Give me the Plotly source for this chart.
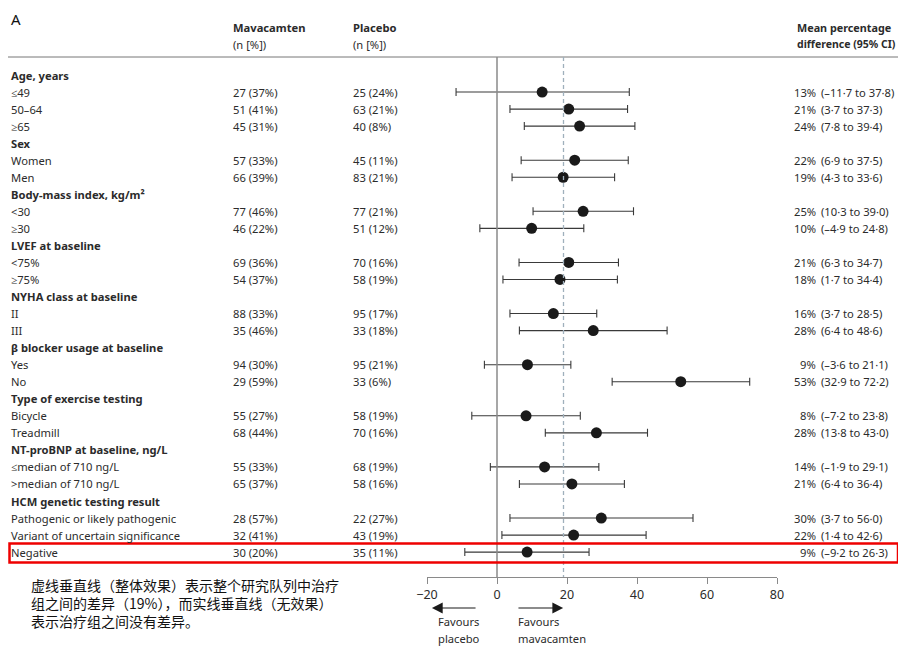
import plotly.graph_objects as go

# ---------------- data ----------------
labels = ["Age, years", "≤49", "50–64", "≥65",
          "Sex", "Women", "Men",
          "Body-mass index, kg/m²", "<30", "≥30",
          "LVEF at baseline", "<75%", "≥75%",
          "NYHA class at baseline", "II", "III",
          "β blocker usage at baseline", "Yes", "No",
          "Type of exercise testing", "Bicycle", "Treadmill",
          "NT-proBNP at baseline, ng/L", "≤median of 710 ng/L", ">median of 710 ng/L",
          "HCM genetic testing result", "Pathogenic or likely pathogenic",
          "Variant of uncertain significance", "Negative"]
is_header = [1, 0, 0, 0, 1, 0, 0, 1, 0, 0, 1, 0, 0, 1, 0, 0, 1, 0, 0, 1, 0, 0, 1, 0, 0, 1, 0, 0, 0]
mava_n = [None, 27, 51, 45, None, 57, 66, None, 77, 46, None, 69, 54, None, 88, 35, None, 94, 29,
          None, 55, 68, None, 55, 65, None, 28, 32, 30]
mava_pct = [None, 37, 41, 31, None, 33, 39, None, 46, 22, None, 36, 37, None, 33, 46, None, 30, 59,
            None, 27, 44, None, 33, 37, None, 57, 41, 20]
plac_n = [None, 25, 63, 40, None, 45, 83, None, 77, 51, None, 70, 58, None, 95, 33, None, 95, 33,
          None, 58, 70, None, 68, 58, None, 22, 43, 35]
plac_pct = [None, 24, 21, 8, None, 11, 21, None, 21, 12, None, 16, 19, None, 17, 18, None, 21, 6,
            None, 19, 16, None, 19, 16, None, 27, 19, 11]
est = [None, 13, 21, 24, None, 22, 19, None, 25, 10, None, 21, 18, None, 16, 28, None, 9, 53,
       None, 8, 28, None, 14, 21, None, 30, 22, 9]
est_plot = [None, 12.9, 20.5, 23.6, None, 22.2, 18.9, None, 24.6, 9.9, None, 20.5, 18.0, None, 16.1, 27.5,
            None, 8.7, 52.5, None, 8.3, 28.4, None, 13.6, 21.4, None, 29.8, 21.9, 8.6]
ci_lo = [None, -11.7, 3.7, 7.8, None, 6.9, 4.3, None, 10.3, -4.9, None, 6.3, 1.7, None, 3.7, 6.4,
         None, -3.6, 32.9, None, -7.2, 13.8, None, -1.9, 6.4, None, 3.7, 1.4, -9.2]
ci_hi = [None, 37.8, 37.3, 39.4, None, 37.5, 33.6, None, 39.0, 24.8, None, 34.7, 34.4, None, 28.5, 48.6,
         None, 21.1, 72.2, None, 23.8, 43.0, None, 29.1, 36.4, None, 56.0, 42.6, 26.3]
overall_effect = 19
x_ticks = [-20, 0, 20, 40, 60, 80]
note_lines = ["虚线垂直线（整体效果）表示整个研究队列中治疗",
              "组之间的差异（19%），而实线垂直线（无效果）",
              "表示治疗组之间没有差异。"]

# ---------------- layout helpers ----------------
SCREEN_W, SCREEN_H = 906, 646
OFF = 8                       # page body margin
FW, FH = SCREEN_W - OFF, SCREEN_H - OFF
ROW0, ROWSTEP = 75, 17.04
row_y = [ROW0 + i * ROWSTEP for i in range(len(labels))]
AXIS_Y = 577
FONT = "Noto Sans"
TXT = "#2b2b2b"
FS = 11.2


def px(x):
    """screen x pixel -> paper fraction"""
    return (x - OFF) / FW


def fmt(v):
    s = f"{v:.1f}".replace(".", "·")
    return s.replace("-", "–")


fig = go.Figure()

idx = [i for i in range(len(labels)) if est_plot[i] is not None]
fig.add_trace(go.Scatter(
    x=[est_plot[i] for i in idx],
    y=[row_y[i] for i in idx],
    mode="markers",
    marker=dict(size=11, color="#1a1a1a"),
    error_x=dict(type="data", symmetric=False,
                 array=[ci_hi[i] - est_plot[i] for i in idx],
                 arrayminus=[est_plot[i] - ci_lo[i] for i in idx],
                 color="#3a3a3a", thickness=1.1, width=4),
    showlegend=False, hoverinfo="skip", cliponaxis=False,
))

ann = []
ann.append(dict(x=px(10), y=18.5, text="A", borderpad=0, font=dict(size=15, color="#111")))
ann.append(dict(x=px(231), y=27, text="<b>Mavacamten</b>"))
ann.append(dict(x=px(231), y=44, text="(n [%])"))
ann.append(dict(x=px(351), y=27, text="<b>Placebo</b>"))
ann.append(dict(x=px(351), y=44, text="(n [%])"))
ann.append(dict(x=px(795), y=27, text="<b>Mean percentage</b>", font=dict(size=10.8, color=TXT)))
ann.append(dict(x=px(795), y=44, text="<b>difference (95% CI)</b>", font=dict(size=10.5, color=TXT)))

for i, lab in enumerate(labels):
    y = row_y[i]
    ann.append(dict(x=px(9), y=y, text=f"<b>{lab}</b>" if is_header[i] else lab))
    if mava_n[i] is not None:
        ann.append(dict(x=px(231), y=y, text=f"{mava_n[i]} ({mava_pct[i]}%)"))
        ann.append(dict(x=px(351), y=y, text=f"{plac_n[i]} ({plac_pct[i]}%)"))
    if est[i] is not None:
        ann.append(dict(x=px(818), y=y, text=f"{est[i]}%", xanchor="right"))
        ann.append(dict(x=px(819), y=y, text=f"({fmt(ci_lo[i])} to {fmt(ci_hi[i])})"))

ann.append(dict(x=px(436), y=621, text="Favours"))
ann.append(dict(x=px(436), y=638, text="placebo"))
ann.append(dict(x=px(516), y=621, text="Favours"))
ann.append(dict(x=px(516), y=638, text="mavacamten"))
ann.append(dict(x=px(29), y=603, text="<br>".join(note_lines),
                font=dict(family="Noto Sans CJK SC", size=14, color="#111")))

full_ann = []
for a in ann:
    d = dict(xref="paper", yref="y", xanchor="left", yanchor="middle", showarrow=False,
             align="left", font=dict(family=FONT, size=FS, color=TXT))
    d.update(a)
    if "font" in a and "family" not in a["font"]:
        d["font"] = dict(family=FONT, **a["font"])
    full_ann.append(d)

# arrows
for head, tail in [(-18.6, -5.7), (18.9, 5.7)]:
    full_ann.append(dict(xref="x", yref="y", axref="x", ayref="y", x=head, y=608, ax=tail, ay=608,
                         showarrow=True, arrowhead=2, arrowsize=1.8, arrowwidth=1.2,
                         arrowcolor="#1a1a1a", text=""))

shapes = [
    dict(type="line", xref="paper", yref="y", x0=px(8), x1=1, y0=57, y1=57,
         line=dict(color="#777777", width=1)),
    dict(type="line", xref="x", yref="y", x0=0, x1=0, y0=57, y1=AXIS_Y,
         line=dict(color="#8a8a8a", width=1.5)),
    dict(type="line", xref="x", yref="y", x0=overall_effect, x1=overall_effect, y0=57, y1=AXIS_Y,
         line=dict(color="#9fb0bc", width=1.3, dash="4px,3px")),
    dict(type="rect", xref="paper", yref="y", x0=px(9.5), x1=px(898), y0=543.5, y1=562.5,
         line=dict(color="#ee0000", width=2.5)),
]

fig.update_layout(
    width=FW, height=FH, autosize=False,
    margin=dict(l=0, r=0, t=0, b=0, pad=0),
    paper_bgcolor="white", plot_bgcolor="rgba(0,0,0,0)",
    showlegend=False,
    annotations=full_ann, shapes=shapes,
    xaxis=dict(domain=[px(427), px(777)], range=[-20, 80], tickvals=x_ticks,
               showgrid=False, zeroline=False, showline=True, linecolor="#8a8a8a", linewidth=1,
               ticks="outside", ticklen=6, tickcolor="#8a8a8a", anchor="free",
               position=1 - (AXIS_Y - OFF) / FH, automargin=False,
               tickfont=dict(family=FONT, size=12.5, color=TXT)),
    yaxis=dict(domain=[0, 1], range=[SCREEN_H, OFF], visible=False, automargin=False),
    font=dict(family=FONT),
)

fig.write_html("out.html")
